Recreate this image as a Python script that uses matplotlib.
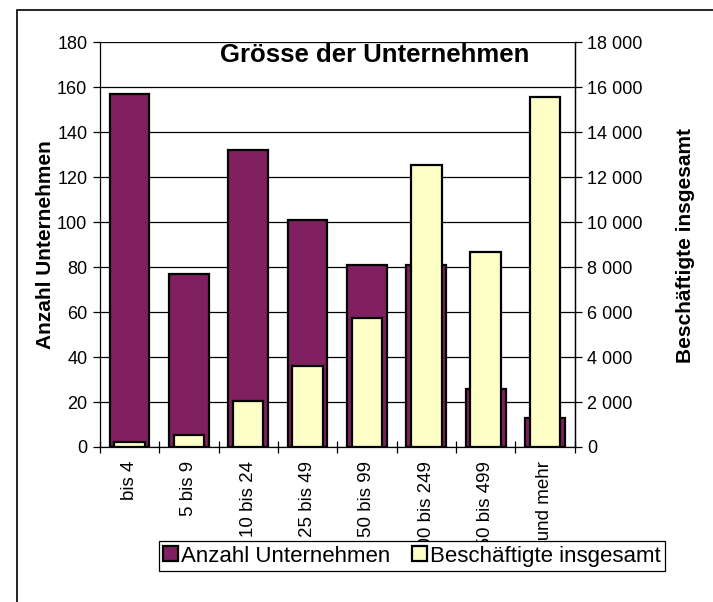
import matplotlib.pyplot as plt
import numpy as np
from matplotlib.patches import Rectangle, Patch
from matplotlib.ticker import FuncFormatter

plt.rcParams['font.family'] = ['Liberation Sans', 'DejaVu Sans']

# Data
categories = ["bis 4", "5 bis 9", "10 bis 24", "25 bis 49", "50 bis 99",
              "100 bis 249", "250 bis 499", "500 und mehr"]
anzahl = [157, 77, 132, 101, 81, 81, 26, 13]
beschaeftigte = [220, 540, 2050, 3600, 5720, 12520, 8650, 15580]

purple = "#802060"
yellow = "#FFFFC8"

fig = plt.figure(figsize=(7.13, 6.02), dpi=100)
ax = fig.add_axes([0.140, 0.2575, 0.666, 0.6725])
ax2 = ax.twinx()

x = np.arange(len(categories))
ax.bar(x, anzahl, width=0.67, color=purple, edgecolor="black", linewidth=1.6, zorder=2)
ax2.bar(x, beschaeftigte, width=0.515, color=yellow, edgecolor="black", linewidth=1.6, zorder=2)

ax.set_xlim(-0.5, len(categories) - 0.5)
ax.set_ylim(0, 180)
ax2.set_ylim(0, 18000)
ax.set_yticks(np.arange(0, 181, 20))
ax2.set_yticks(np.arange(0, 18001, 2000))
ax2.yaxis.set_major_formatter(FuncFormatter(lambda v, p: f"{int(v):,}".replace(",", " ")))

ax.set_axisbelow(True)
ax.yaxis.grid(True, color="black", linewidth=0.9)

# category labels and boundary tick marks
ax.set_xticks(x, categories, rotation=90)
ax.set_xticks(np.arange(-0.5, len(categories)), minor=True)
ax.tick_params(axis="x", which="major", length=0, pad=10, labelsize=13.5)
ax.tick_params(axis="x", which="minor", length=8, direction="inout", width=0.9)
ax.tick_params(axis="y", length=5, width=0.9, pad=4, labelsize=13)
ax2.tick_params(axis="y", length=5, width=0.9, pad=4, labelsize=13)

for a in (ax, ax2):
    a.spines["top"].set_visible(False)
    for s in ("left", "right", "bottom"):
        a.spines[s].set_linewidth(0.9)
ax2.spines["left"].set_visible(False)
ax2.spines["bottom"].set_visible(False)

fig.text(0.525, 0.908, "Grösse der Unternehmen", ha="center", va="center",
         fontsize=18.5, fontweight="bold")
fig.text(0.064, 0.593, "Anzahl Unternehmen", rotation=90, ha="center", va="center",
         fontsize=15, fontweight="bold")
fig.text(0.962, 0.593, "Beschäftigte insgesamt", rotation=90, ha="center", va="center",
         fontsize=15, fontweight="bold")

handles = [Patch(facecolor=purple, edgecolor="black", linewidth=1.6),
           Patch(facecolor=yellow, edgecolor="black", linewidth=1.6)]
leg = fig.legend(handles, ["Anzahl Unternehmen", "Beschäftigte insgesamt"],
                 loc="center", bbox_to_anchor=(0.578, 0.0764), ncol=2, fontsize=16,
                 frameon=True, fancybox=False, edgecolor="black", framealpha=1,
                 handlelength=0.65, handleheight=0.65, handletextpad=0.15,
                 columnspacing=1.0, borderpad=0.2)
leg.get_frame().set_linewidth(0.9)

# long category labels are cut off where the legend begins, as in the original
fig.patches.append(Rectangle((0.1, 0), 0.9, 0.101, facecolor="white", edgecolor="none",
                             transform=fig.transFigure, zorder=4))

# chart area border (runs off the right and bottom edge)
fig.patches.append(Rectangle((17 / 713, -0.1), 1.2, 1.1 - 10 / 602, fill=False,
                             edgecolor="black", linewidth=1.2, transform=fig.transFigure,
                             zorder=4.5))

fig.savefig("out.png", dpi=100)
